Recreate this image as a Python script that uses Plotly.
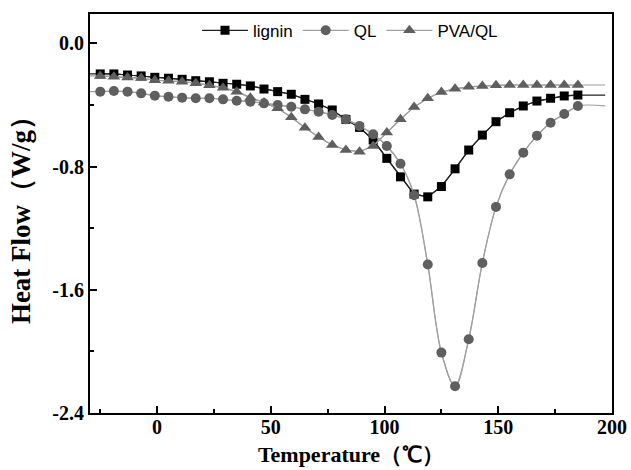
import plotly.graph_objects as go

# Temperature positions of the markers (°C)
temp = [-25 + 6 * i for i in range(36)]
# Line ends beyond the marker range
temp_start = -30
temp_end = 197

lignin = [-0.199, -0.199, -0.206, -0.212, -0.221, -0.227, -0.234, -0.243, -0.250, -0.260,
          -0.266, -0.277, -0.297, -0.314, -0.331, -0.364, -0.394, -0.433, -0.494, -0.546,
          -0.628, -0.747, -0.867, -0.979, -0.997, -0.930, -0.815, -0.693, -0.596, -0.509,
          -0.451, -0.407, -0.375, -0.357, -0.342, -0.336]
ql = [-0.314, -0.310, -0.314, -0.325, -0.340, -0.347, -0.353, -0.357, -0.357, -0.364,
      -0.373, -0.379, -0.390, -0.401, -0.412, -0.429, -0.444, -0.466, -0.494, -0.537,
      -0.591, -0.667, -0.782, -0.986, -1.436, -2.008, -2.226, -1.921, -1.426, -1.062,
      -0.851, -0.710, -0.600, -0.516, -0.459, -0.407]
pva_ql = [-0.212, -0.218, -0.222, -0.226, -0.240, -0.244, -0.249, -0.259, -0.272, -0.288,
          -0.314, -0.353, -0.385, -0.422, -0.480, -0.548, -0.608, -0.660, -0.693, -0.704,
          -0.667, -0.580, -0.493, -0.413, -0.357, -0.316, -0.296, -0.283, -0.277, -0.273,
          -0.271, -0.271, -0.271, -0.271, -0.271, -0.271]

names = ["lignin", "QL", "PVA/QL"]
series = [lignin, ql, pva_ql]
symbols = ["square", "circle", "triangle-up"]
marker_colors = ["#000000", "#5f5f5f", "#5f5f5f"]
line_colors = ["#222222", "#a0a0a0", "#a0a0a0"]
marker_sizes = [9, 10, 11]
shapes = ["linear", "spline", "linear"]

fig = go.Figure()
for name, ys, sym, mc, lc, ms, shp in zip(names, series, symbols, marker_colors,
                                          line_colors, marker_sizes, shapes):
    fig.add_trace(go.Scatter(
        x=[temp_start] + temp + [temp_end], y=[ys[0]] + ys + [ys[-1]],
        mode="lines", line=dict(color=lc, width=1.2, shape=shp),
        showlegend=False, hoverinfo="skip"))
    fig.add_trace(go.Scatter(
        x=temp, y=ys, name=name, mode="lines+markers",
        line=dict(color=lc, width=1.2, shape=shp),
        marker=dict(symbol=sym, color=mc, size=ms)))

serif = dict(family="Liberation Serif, Times New Roman, serif", color="black", weight="bold")

fig.update_layout(
    width=631, height=470,
    margin=dict(l=90, r=19, t=14, b=57),
    paper_bgcolor="white", plot_bgcolor="white",
    legend=dict(orientation="h", x=0.205, y=0.958, xanchor="left", yanchor="middle",
                font=dict(family="Liberation Sans, Arial, sans-serif", size=17, color="black"),
                bgcolor="rgba(0,0,0,0)", itemwidth=46, tracegroupgap=0),
    xaxis=dict(range=[-29.5, 200], tickvals=[0, 50, 100, 150, 200], automargin=False,
               ticks="inside", ticklen=7, tickwidth=2, tickcolor="black",
               minor=dict(tickvals=[-25, 25, 75, 125, 175], ticks="inside", ticklen=4,
                          tickwidth=2, tickcolor="black"),
               showline=True, linecolor="black", linewidth=2, mirror=True,
               showgrid=False, zeroline=False, ticklabelstandoff=-5,
               tickfont=dict(size=20, **serif),
               title=dict(text="Temperature（℃）", font=dict(size=22, **serif), standoff=10)),
    yaxis=dict(range=[-2.4, 0.19], tickvals=[0.0, -0.8, -1.6, -2.4], automargin=False,
               ticktext=["0.0", "-0.8", "-1.6", "-2.4"],
               ticks="inside", ticklen=7, tickwidth=2, tickcolor="black",
               minor=dict(tickvals=[-0.4, -1.2, -2.0], ticks="inside", ticklen=4,
                          tickwidth=2, tickcolor="black"),
               showline=True, linecolor="black", linewidth=2, mirror=True,
               showgrid=False, zeroline=False, ticklabelstandoff=0,
               tickfont=dict(size=20, **serif),
               title=dict(text="Heat Flow（W/g）", font=dict(size=27, **serif), standoff=14)),
)

fig.write_html("out.html")
